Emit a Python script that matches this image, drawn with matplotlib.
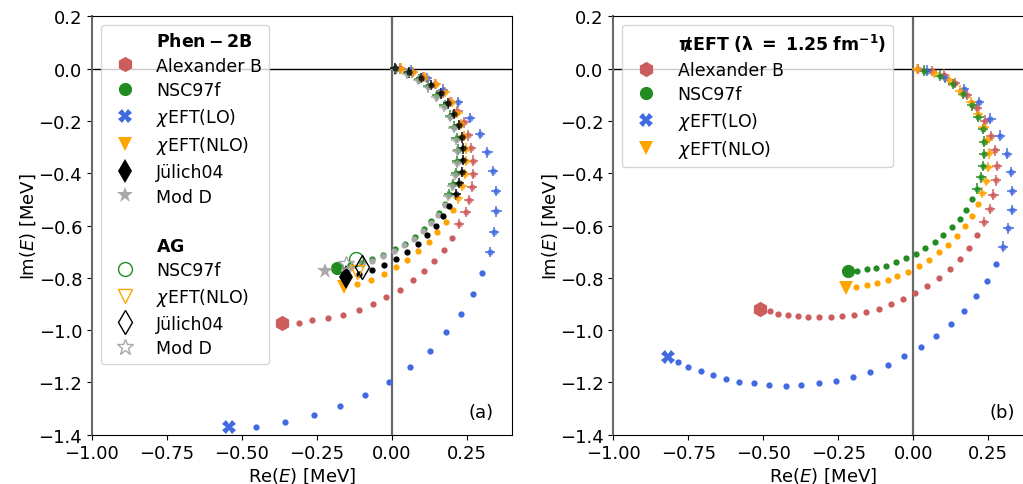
import numpy as np
import matplotlib.pyplot as plt
from matplotlib.lines import Line2D

plt.rcParams['font.size'] = 12
plt.rcParams['mathtext.fontset'] = 'dejavusans'

c_red = 'indianred'
c_green = 'forestgreen'
c_blue = 'royalblue'
c_orange = 'orange'
c_black = 'black'
c_gray = 'darkgray'

XERR = 0.017
YERR = 0.02

# ---------- panel (a): Phen-2B ----------
alexB_a_end = (-0.367, -0.973)
alexB_a_dx = [-0.311, -0.268, -0.212, -0.163, -0.109, -0.062, -0.019, 0.027, 0.069, 0.107, 0.141, 0.173, 0.200]
alexB_a_dy = [-0.973, -0.962, -0.955, -0.941, -0.924, -0.901, -0.873, -0.845, -0.810, -0.773, -0.734, -0.693, -0.647]
alexB_a_ex = [0.224, 0.245, 0.256, 0.266, 0.270, 0.269, 0.262, 0.252, 0.239, 0.218, 0.192, 0.170, 0.142, 0.103, 0.065, 0.026]
alexB_a_ey = [-0.594, -0.549, -0.502, -0.451, -0.402, -0.352, -0.303, -0.255, -0.206, -0.163, -0.127, -0.091, -0.059, -0.033, -0.014, 0.001]

lo_a_end = (-0.543, -1.372)
lo_a_dx = [-0.454, -0.355, -0.260, -0.173, -0.090, -0.010, 0.061, 0.126, 0.181, 0.231, 0.269, 0.301]
lo_a_dy = [-1.369, -1.351, -1.326, -1.292, -1.250, -1.199, -1.142, -1.078, -1.009, -0.937, -0.861, -0.783]
lo_a_ex = [0.326, 0.341, 0.348, 0.347, 0.337, 0.318, 0.293, 0.260, 0.220, 0.169, 0.115, 0.062]
lo_a_ey = [-0.701, -0.624, -0.546, -0.468, -0.392, -0.320, -0.251, -0.188, -0.129, -0.080, -0.035, -0.008]

nsc_a_end = (-0.184, -0.762)
nsc_a_dx = [-0.140, -0.100, -0.065, -0.030, 0.009, 0.043, 0.076, 0.105, 0.131, 0.155, 0.177]
nsc_a_dy = [-0.752, -0.742, -0.729, -0.712, -0.690, -0.669, -0.643, -0.614, -0.584, -0.553, -0.516]
nsc_a_ex = [0.189, 0.203, 0.213, 0.218, 0.219, 0.215, 0.207, 0.194, 0.175, 0.150, 0.121, 0.089, 0.052, 0.012]
nsc_a_ey = [-0.480, -0.443, -0.400, -0.355, -0.310, -0.266, -0.222, -0.180, -0.140, -0.102, -0.068, -0.040, -0.017, -0.002]

nlo_a_end = (-0.161, -0.835)
nlo_a_dx = [-0.117, -0.069, -0.028, 0.015, 0.051, 0.087, 0.122, 0.151, 0.180, 0.202]
nlo_a_dy = [-0.824, -0.808, -0.785, -0.760, -0.730, -0.697, -0.664, -0.623, -0.585, -0.541]
nlo_a_ex = [0.220, 0.232, 0.243, 0.246, 0.245, 0.240, 0.231, 0.218, 0.200, 0.176, 0.146, 0.110, 0.070, 0.030]
nlo_a_ey = [-0.496, -0.448, -0.403, -0.354, -0.306, -0.258, -0.212, -0.168, -0.127, -0.090, -0.058, -0.032, -0.013, 0.000]

modd_a_end = (-0.223, -0.775)
modd_a_dx = [-0.175, -0.138, -0.100, -0.066, -0.031, 0.006, 0.041, 0.073, 0.103, 0.129, 0.153, 0.175]
modd_a_dy = [-0.770, -0.760, -0.748, -0.735, -0.718, -0.697, -0.675, -0.650, -0.621, -0.591, -0.560, -0.523]
modd_a_ex = [0.187, 0.201, 0.211, 0.216, 0.217, 0.213, 0.205, 0.192, 0.173, 0.148, 0.119, 0.087, 0.050, 0.010]
modd_a_ey = [-0.487, -0.449, -0.406, -0.361, -0.316, -0.272, -0.228, -0.186, -0.145, -0.107, -0.072, -0.043, -0.019, -0.003]

jul_a_end = (-0.153, -0.797)
jul_a_dx = [-0.110, -0.068, -0.025, 0.013, 0.050, 0.085, 0.117, 0.146, 0.171, 0.191]
jul_a_dy = [-0.786, -0.770, -0.750, -0.729, -0.701, -0.670, -0.638, -0.601, -0.563, -0.525]
jul_a_ex = [0.212, 0.223, 0.232, 0.237, 0.237, 0.232, 0.222, 0.208, 0.188, 0.162, 0.131, 0.097, 0.057, 0.009]
jul_a_ey = [-0.481, -0.438, -0.395, -0.349, -0.305, -0.263, -0.216, -0.174, -0.133, -0.095, -0.062, -0.035, -0.014, 0.001]

# AG results (open markers)
ag_nsc = (-0.121, -0.729)
ag_nlo = (-0.117, -0.777)
ag_jul = (-0.101, -0.760)
ag_modd = (-0.154, -0.748)

# ---------- panel (b): pionless EFT ----------
alexB_b_end = (-0.510, -0.920)
alexB_b_dx = [-0.479, -0.451, -0.418, -0.385, -0.350, -0.315, -0.276, -0.237, -0.197, -0.157, -0.116, -0.074,
              -0.034, 0.007, 0.046, 0.085, 0.121, 0.155, 0.185, 0.212]
alexB_b_dy = [-0.928, -0.937, -0.942, -0.947, -0.950, -0.951, -0.950, -0.946, -0.941, -0.931, -0.918, -0.901,
              -0.882, -0.859, -0.832, -0.800, -0.766, -0.728, -0.685, -0.638]
alexB_b_ex = [0.236, 0.255, 0.267, 0.276, 0.278, 0.273, 0.259, 0.239, 0.213, 0.180, 0.140, 0.101, 0.062, 0.016]
alexB_b_ey = [-0.587, -0.536, -0.482, -0.427, -0.372, -0.313, -0.257, -0.199, -0.151, -0.100, -0.055, -0.023, -0.010, -0.001]

nsc_b_end = (-0.219, -0.775)
nsc_b_dx = [-0.187, -0.155, -0.123, -0.090, -0.057, -0.025, 0.008, 0.039, 0.071, 0.100, 0.128, 0.154, 0.176, 0.197]
nsc_b_dy = [-0.775, -0.768, -0.762, -0.753, -0.740, -0.725, -0.707, -0.687, -0.664, -0.637, -0.607, -0.575, -0.540, -0.500]
nsc_b_ex = [0.213, 0.225, 0.231, 0.236, 0.237, 0.231, 0.217, 0.195, 0.166, 0.131, 0.090, 0.036]
nsc_b_ey = [-0.459, -0.416, -0.372, -0.326, -0.279, -0.231, -0.185, -0.141, -0.097, -0.059, -0.027, -0.008]

nlo_b_end = (-0.224, -0.838)
nlo_b_dx = [-0.190, -0.156, -0.121, -0.086, -0.053, -0.017, 0.019, 0.053, 0.085, 0.116, 0.146, 0.172, 0.194, 0.216]
nlo_b_dy = [-0.836, -0.829, -0.820, -0.808, -0.793, -0.776, -0.756, -0.731, -0.703, -0.674, -0.639, -0.601, -0.563, -0.519]
nlo_b_ex = [0.230, 0.241, 0.248, 0.252, 0.247, 0.234, 0.216, 0.191, 0.157, 0.118, 0.070, 0.011]
nlo_b_ey = [-0.474, -0.430, -0.376, -0.324, -0.272, -0.224, -0.175, -0.129, -0.084, -0.045, -0.017, -0.001]

lo_b_end = (-0.816, -1.103)
lo_b_dx = [-0.783, -0.750, -0.707, -0.668, -0.623, -0.580, -0.531, -0.480, -0.426, -0.375, -0.316, -0.259,
           -0.202, -0.143, -0.086, -0.030, 0.025, 0.077, 0.125, 0.170, 0.210, 0.246, 0.277]
lo_b_dy = [-1.123, -1.142, -1.157, -1.173, -1.185, -1.197, -1.204, -1.209, -1.212, -1.211, -1.204, -1.194,
           -1.180, -1.160, -1.133, -1.100, -1.065, -1.024, -0.978, -0.927, -0.871, -0.811, -0.748]
lo_b_ex = [0.300, 0.317, 0.328, 0.330, 0.325, 0.311, 0.288, 0.257, 0.218, 0.168, 0.106, 0.045]
lo_b_ey = [-0.681, -0.611, -0.540, -0.467, -0.396, -0.325, -0.256, -0.191, -0.127, -0.077, -0.035, -0.008]


def trajectory(ax, end, dx, dy, ex, ey, color, marker, ms, label):
    ax.plot(dx, dy, 'o', color=color, ms=4.5, mew=0, zorder=3)
    ax.errorbar(ex, ey, xerr=XERR, yerr=YERR, fmt='o', color=color, ms=4.5, mew=0,
                ecolor=color, elinewidth=1.4, alpha=0.75, zorder=3)
    ax.plot([end[0]], [end[1]], marker, color=color, ms=ms, mew=0, ls='none', zorder=4, label=label)


def style_axes(ax, tag):
    ax.axhline(0, color='k', lw=1, zorder=1)
    ax.axvline(0, color='dimgray', lw=1.6, zorder=1)
    ax.set_xlim(-1.0, 0.4)
    ax.set_ylim(-1.4, 0.2)
    ax.set_xticks([-1.0, -0.75, -0.5, -0.25, 0.0, 0.25])
    ax.set_yticks([0.2, 0.0, -0.2, -0.4, -0.6, -0.8, -1.0, -1.2, -1.4])
    ax.set_xlabel('Re($E$) [MeV]', fontsize=13, labelpad=2)
    ax.set_ylabel('Im($E$) [MeV]', fontsize=13, labelpad=0)
    ax.tick_params(labelsize=13)
    ax.spines['left'].set_color('dimgray')
    ax.spines['left'].set_linewidth(1.5)
    ax.text(0.927, 0.055, tag, transform=ax.transAxes, ha='center', va='center', fontsize=13)


fig = plt.figure(figsize=(10.23, 4.85), dpi=100)
ax1 = fig.add_axes([0.0899, 0.1016, 0.4106, 0.8627])
ax2 = fig.add_axes([0.5995, 0.1016, 0.4106, 0.8627])

# panel (a)
trajectory(ax1, alexB_a_end, alexB_a_dx, alexB_a_dy, alexB_a_ex, alexB_a_ey, c_red, 'h', 11, 'Alexander B')
trajectory(ax1, lo_a_end, lo_a_dx, lo_a_dy, lo_a_ex, lo_a_ey, c_blue, 'X', 10, r'$\chi$EFT(LO)')
trajectory(ax1, nsc_a_end, nsc_a_dx, nsc_a_dy, nsc_a_ex, nsc_a_ey, c_green, 'o', 9.5, 'NSC97f')
trajectory(ax1, nlo_a_end, nlo_a_dx, nlo_a_dy, nlo_a_ex, nlo_a_ey, c_orange, 'v', 10, r'$\chi$EFT(NLO)')
trajectory(ax1, modd_a_end, modd_a_dx, modd_a_dy, modd_a_ex, modd_a_ey, c_gray, '*', 12, 'Mod D')
trajectory(ax1, jul_a_end, jul_a_dx, jul_a_dy, jul_a_ex, jul_a_ey, c_black, 'd', 12, 'Jülich04')

ax1.plot([ag_nsc[0]], [ag_nsc[1]], 'o', mfc='none', mec=c_green, ms=10, mew=1, zorder=5)
ax1.plot([ag_nlo[0]], [ag_nlo[1]], 'v', mfc='none', mec=c_orange, ms=10, mew=1, zorder=5)
ax1.plot([ag_jul[0]], [ag_jul[1]], 'd', mfc='none', mec=c_black, ms=12, mew=1, zorder=5)
ax1.plot([ag_modd[0]], [ag_modd[1]], '*', mfc='none', mec=c_gray, ms=12, mew=1, zorder=5)

blank = dict(ls='none', marker='None')
h1 = [
    Line2D([], [], label=r'$\mathbf{Phen-2B}$', **blank),
    Line2D([], [], marker='h', color=c_red, ms=11, mew=0, ls='none', label='Alexander B'),
    Line2D([], [], marker='o', color=c_green, ms=9.5, mew=0, ls='none', label='NSC97f'),
    Line2D([], [], marker='X', color=c_blue, ms=10, mew=0, ls='none', label=r'$\chi$EFT(LO)'),
    Line2D([], [], marker='v', color=c_orange, ms=10, mew=0, ls='none', label=r'$\chi$EFT(NLO)'),
    Line2D([], [], marker='d', color=c_black, ms=12, mew=0, ls='none', label='Jülich04'),
    Line2D([], [], marker='*', color=c_gray, ms=12, mew=0, ls='none', label='Mod D'),
    Line2D([], [], label=' ', **blank),
    Line2D([], [], label=r'$\mathbf{AG}$', **blank),
    Line2D([], [], marker='o', mfc='none', mec=c_green, ms=10, mew=1, ls='none', label='NSC97f'),
    Line2D([], [], marker='v', mfc='none', mec=c_orange, ms=10, mew=1, ls='none', label=r'$\chi$EFT(NLO)'),
    Line2D([], [], marker='d', mfc='none', mec=c_black, ms=12, mew=1, ls='none', label='Jülich04'),
    Line2D([], [], marker='*', mfc='none', mec=c_gray, ms=12, mew=1, ls='none', label='Mod D'),
]
ax1.legend(handles=h1, loc='upper left', fontsize=12.5, labelspacing=0.38, borderaxespad=0.5)
style_axes(ax1, '(a)')

# panel (b)
trajectory(ax2, alexB_b_end, alexB_b_dx, alexB_b_dy, alexB_b_ex, alexB_b_ey, c_red, 'h', 11, 'Alexander B')
trajectory(ax2, lo_b_end, lo_b_dx, lo_b_dy, lo_b_ex, lo_b_ey, c_blue, 'X', 10, r'$\chi$EFT(LO)')
trajectory(ax2, nlo_b_end, nlo_b_dx, nlo_b_dy, nlo_b_ex, nlo_b_ey, c_orange, 'v', 10, r'$\chi$EFT(NLO)')
trajectory(ax2, nsc_b_end, nsc_b_dx, nsc_b_dy, nsc_b_ex, nsc_b_ey, c_green, 'o', 9.5, 'NSC97f')

h2 = [
    Line2D([], [], label=r'$\mathbf{\pi\!\!\!/\,EFT\ (\lambda\ =\ 1.25\ fm^{-1})}$', **blank),
    h1[1], h1[2], h1[3], h1[4],
]
ax2.legend(handles=h2, loc='upper left', fontsize=12.5, labelspacing=0.38, borderaxespad=0.5)
style_axes(ax2, '(b)')

fig.savefig('out.png', dpi=100)
